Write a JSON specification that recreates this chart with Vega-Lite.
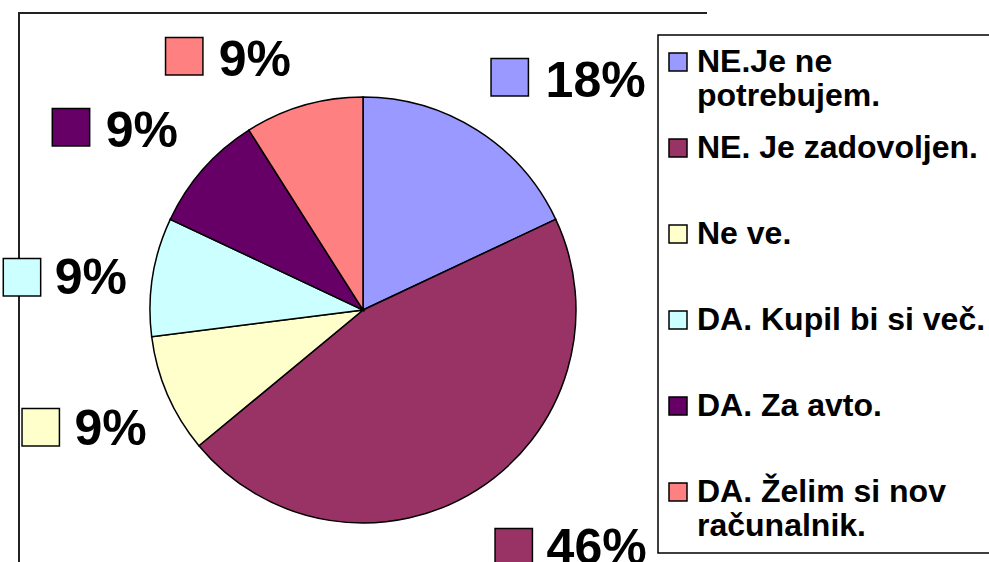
{
  "$schema": "https://vega.github.io/schema/vega-lite/v6.json",
  "width": 688,
  "height": 594,
  "autosize": {"type": "none"},
  "padding": {"left": 19, "top": 13, "right": 282, "bottom": 0},
  "background": "white",
  "view": {"stroke": "#222222", "strokeWidth": 2, "strokeDash": [688, 1282, 594], "fill": "white"},
  "config": {
    "legend": {
      "orient": "none",
      "legendX": 639,
      "legendY": 22,
      "fillColor": "white",
      "strokeColor": "black",
      "padding": 11,
      "symbolType": "square",
      "symbolSize": 324,
      "symbolStrokeColor": "black",
      "symbolStrokeWidth": 1.5,
      "symbolOpacity": 1,
      "symbolOffset": -7,
      "labelFont": "Liberation Sans",
      "labelFontWeight": "bold",
      "labelFontSize": 32,
      "labelColor": "black",
      "labelOffset": 3,
      "labelLimit": 500,
      "rowPadding": 20,
      "gridAlign": "all"
    }
  },
  "data": {
    "values": [
      {"cat": "NE.Je ne potrebujem.", "value": 0.18},
      {"cat": "NE. Je zadovoljen.", "value": 0.46},
      {"cat": "Ne ve.", "value": 0.09},
      {"cat": "DA. Kupil bi si več.", "value": 0.09},
      {"cat": "DA. Za avto.", "value": 0.09},
      {"cat": "DA. Želim si nov računalnik.", "value": 0.09}
    ]
  },
  "transform": [
    {"window": [{"op": "row_number", "as": "rn"}]},
    {"window": [{"op": "sum", "field": "value", "as": "cum"}], "sort": [{"field": "rn"}], "frame": [null, 0]},
    {"calculate": "datum.cum - datum.value / 2", "as": "mid"}
  ],
  "layer": [
    {
      "mark": {"type": "arc", "outerRadius": 213, "stroke": "black", "strokeWidth": 1.5},
      "encoding": {
        "theta": {"field": "value", "type": "quantitative", "stack": true},
        "order": {"field": "rn", "type": "quantitative"},
        "color": {
          "field": "cat",
          "type": "nominal",
          "scale": {
            "domain": ["NE.Je ne potrebujem.", "NE. Je zadovoljen.", "Ne ve.", "DA. Kupil bi si več.", "DA. Za avto.", "DA. Želim si nov računalnik."],
            "range": ["#9999FF", "#993366", "#FFFFCC", "#CCFFFF", "#660066", "#FF8080"]
          },
          "legend": {
            "title": null,
            "labelExpr": "datum.label == 'NE.Je ne potrebujem.' ? ['NE.Je ne', 'potrebujem.'] : datum.label == 'DA. Želim si nov računalnik.' ? ['DA. Želim si nov', 'računalnik.'] : datum.label",
            "encode": {
              "legend": {"update": {"strokeWidth": {"value": 1.5}}},
              "labels": {"update": {"lineHeight": {"value": 34}}}
            }
          }
        }
      }
    },
    {
      "transform": [{"filter": "datum.mid < 0.25"}],
      "mark": {"type": "text", "radius": 240, "text": "■", "font": "DejaVu Sans", "fontSize": 49, "align": "center", "baseline": "middle", "stroke": "black", "strokeWidth": 1.5, "dx": 18, "dy": -32},
      "encoding": {
        "theta": {"field": "mid", "type": "quantitative", "stack": null},
        "color": {"field": "cat", "type": "nominal"}
      }
    },
    {
      "transform": [{"filter": "datum.mid < 0.25"}],
      "mark": {"type": "text", "radius": 240, "font": "Liberation Sans", "fontWeight": "bold", "fontSize": 50, "align": "left", "baseline": "alphabetic", "color": "black", "dx": 54, "dy": -10},
      "encoding": {
        "theta": {"field": "mid", "type": "quantitative", "stack": null},
        "text": {"field": "value", "type": "quantitative", "format": ".0%"}
      }
    },
    {
      "transform": [{"filter": "datum.mid >= 0.25 && datum.mid < 0.5"}],
      "mark": {"type": "text", "radius": 240, "text": "■", "font": "DejaVu Sans", "fontSize": 49, "align": "center", "baseline": "middle", "stroke": "black", "strokeWidth": 1.5, "dx": 22, "dy": 32},
      "encoding": {
        "theta": {"field": "mid", "type": "quantitative", "stack": null},
        "color": {"field": "cat", "type": "nominal"}
      }
    },
    {
      "transform": [{"filter": "datum.mid >= 0.25 && datum.mid < 0.5"}],
      "mark": {"type": "text", "radius": 240, "font": "Liberation Sans", "fontWeight": "bold", "fontSize": 50, "align": "left", "baseline": "alphabetic", "color": "black", "dx": 55, "dy": 51},
      "encoding": {
        "theta": {"field": "mid", "type": "quantitative", "stack": null},
        "text": {"field": "value", "type": "quantitative", "format": ".0%"}
      }
    },
    {
      "transform": [{"filter": "datum.mid >= 0.5 && datum.mid < 0.72"}],
      "mark": {"type": "text", "radius": 240, "text": "■", "font": "DejaVu Sans", "fontSize": 49, "align": "center", "baseline": "middle", "stroke": "black", "strokeWidth": 1.5, "dx": -102, "dy": 20},
      "encoding": {
        "theta": {"field": "mid", "type": "quantitative", "stack": null},
        "color": {"field": "cat", "type": "nominal"}
      }
    },
    {
      "transform": [{"filter": "datum.mid >= 0.5 && datum.mid < 0.72"}],
      "mark": {"type": "text", "radius": 240, "font": "Liberation Sans", "fontWeight": "bold", "fontSize": 50, "align": "right", "baseline": "alphabetic", "color": "black", "dx": 4, "dy": 40},
      "encoding": {
        "theta": {"field": "mid", "type": "quantitative", "stack": null},
        "text": {"field": "value", "type": "quantitative", "format": ".0%"}
      }
    },
    {
      "transform": [{"filter": "datum.mid >= 0.72 && datum.mid < 0.8"}],
      "mark": {"type": "text", "radius": 240, "text": "■", "font": "DejaVu Sans", "fontSize": 49, "align": "center", "baseline": "middle", "stroke": "black", "strokeWidth": 1.5, "dx": -104, "dy": 3},
      "encoding": {
        "theta": {"field": "mid", "type": "quantitative", "stack": null},
        "color": {"field": "cat", "type": "nominal"}
      }
    },
    {
      "transform": [{"filter": "datum.mid >= 0.72 && datum.mid < 0.8"}],
      "mark": {"type": "text", "radius": 240, "font": "Liberation Sans", "fontWeight": "bold", "fontSize": 50, "align": "right", "baseline": "alphabetic", "color": "black", "dx": 1, "dy": 22},
      "encoding": {
        "theta": {"field": "mid", "type": "quantitative", "stack": null},
        "text": {"field": "value", "type": "quantitative", "format": ".0%"}
      }
    },
    {
      "transform": [{"filter": "datum.mid >= 0.8"}],
      "mark": {"type": "text", "radius": 240, "text": "■", "font": "DejaVu Sans", "fontSize": 49, "align": "center", "baseline": "middle", "stroke": "black", "strokeWidth": 1.5, "dx": -112, "dy": -26},
      "encoding": {
        "theta": {"field": "mid", "type": "quantitative", "stack": null},
        "color": {"field": "cat", "type": "nominal"}
      }
    },
    {
      "transform": [{"filter": "datum.mid >= 0.8"}],
      "mark": {"type": "text", "radius": 240, "font": "Liberation Sans", "fontWeight": "bold", "fontSize": 50, "align": "right", "baseline": "alphabetic", "color": "black", "dx": -5, "dy": -4},
      "encoding": {
        "theta": {"field": "mid", "type": "quantitative", "stack": null},
        "text": {"field": "value", "type": "quantitative", "format": ".0%"}
      }
    }
  ]
}
